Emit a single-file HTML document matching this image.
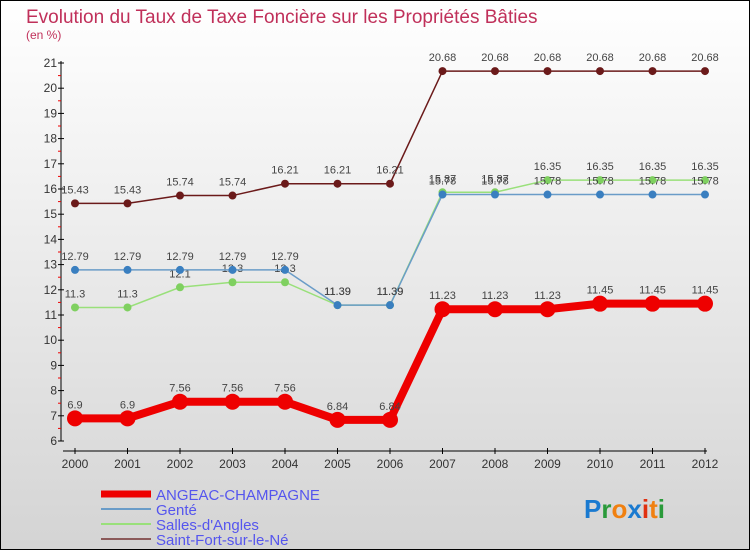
<!DOCTYPE html>
<html><head><meta charset="utf-8"><style>
body{margin:0}
#c{width:748px;height:548px;border:1px solid #000;background:linear-gradient(#fff,#d4d4d4);position:relative;font-family:"Liberation Sans",sans-serif;overflow:hidden}
</style></head><body>
<div id="c">
<svg id="s" width="748" height="548"></svg>
</div>
<script>
const years=[2000,2001,2002,2003,2004,2005,2006,2007,2008,2009,2010,2011,2012];
const angeac=[6.9,6.9,7.56,7.56,7.56,6.84,6.84,11.23,11.23,11.23,11.45,11.45,11.45];
const gente=[12.79,12.79,12.79,12.79,12.79,11.39,11.39,15.78,15.78,15.78,15.78,15.78,15.78];
const salles=[11.3,11.3,12.1,12.3,12.3,11.39,11.39,15.87,15.87,16.35,16.35,16.35,16.35];
const stfort=[15.43,15.43,15.74,15.74,16.21,16.21,16.21,20.68,20.68,20.68,20.68,20.68,20.68];
const yTicks=[6,7,8,9,10,11,12,13,14,15,16,17,18,19,20,21];
const names=["ANGEAC-CHAMPAGNE","Genté","Salles-d'Angles","Saint-Fort-sur-le-Né"];
const NS="http://www.w3.org/2000/svg",s=document.getElementById('s');
const X=i=>74+52.5*i, Y=v=>440-(v-6)*25.2;
function el(t,a,p){const e=document.createElementNS(NS,t);for(const k in a)e.setAttribute(k,a[k]);(p||s).appendChild(e);return e;}
function tx(x,y,str,a){const e=el('text',Object.assign({x:x,y:y},a));e.textContent=str;return e;}
let t=tx(25,22,"Evolution du Taux de Taxe Foncière sur les Propriétés Bâties",{'font-size':19,fill:'#c0305a'});

t=tx(25,38,"(en %)",{'font-size':12,fill:'#c0305a'});

let a=el('line',{x1:60,y1:60,x2:60,y2:440,stroke:'#000'});

a=el('line',{x1:62,y1:450,x2:706,y2:450,stroke:'#000'});

yTicks.forEach(v=>{el('line',{x1:57,y1:Y(v),x2:63,y2:Y(v),stroke:'#000'});
 if(v<21)el('line',{x1:57,y1:Y(v+0.5),x2:60,y2:Y(v+0.5),stroke:'#e00'});
 const l=tx(56,Y(v)+4,String(v),{'font-size':12,fill:'#333','text-anchor':'end'});
 });
years.forEach((yr,i)=>{el('line',{x1:X(i),y1:447,x2:X(i),y2:453,stroke:'#000'});
 const l=tx(X(i),467,String(yr),{'font-size':12,fill:'#333','text-anchor':'middle'});
 });
const series=[[stfort,'#6b1a1a','#6b1a1a',1.5,4,'saint-fort'],[salles,'#99e07a','#7fd060',1.5,4,'salles'],[gente,'#6a9cc8','#3a7fc0',1.5,4,'gente'],[angeac,'#ee0000','#ee0000',8,8,'angeac']];
series.forEach(([d,c,pc,w,r,n])=>{
 const p=el('polyline',{points:d.map((v,i)=>X(i)+','+Y(v)).join(' '),fill:'none',stroke:c,'stroke-width':w});
 
 d.forEach((v,i)=>{const m=el('circle',{cx:X(i),cy:Y(v),r:r,fill:pc});
  
  const l=tx(X(i),Y(v)-10,String(v),{'font-size':11,fill:'#444','text-anchor':'middle'});
  });
});
const lc=['#ee0000','#6a9cc8','#99e07a','#8b5a5a'],lw=[7,2,2,2];
names.forEach((n,i)=>{const y=493+i*15;
 const ln=el('line',{x1:100,y1:y,x2:150,y2:y,stroke:lc[i],'stroke-width':lw[i]});
 
 const l=tx(155,y+6,n,{'font-size':15,fill:'#5555ee'});
 });
const g=tx(583,517,"",{'font-size':26,'font-weight':'bold'});

[["P","#1a7ad0"],["r","#2a9a3a"],["o","#f08010"],["x","#1a7ad0"],["i","#e03010"],["t","#f08010"],["i","#2a9a3a"]].forEach(([ch,c])=>{const e=el('tspan',{fill:c},g);e.textContent=ch;});
</script>
</body></html>
